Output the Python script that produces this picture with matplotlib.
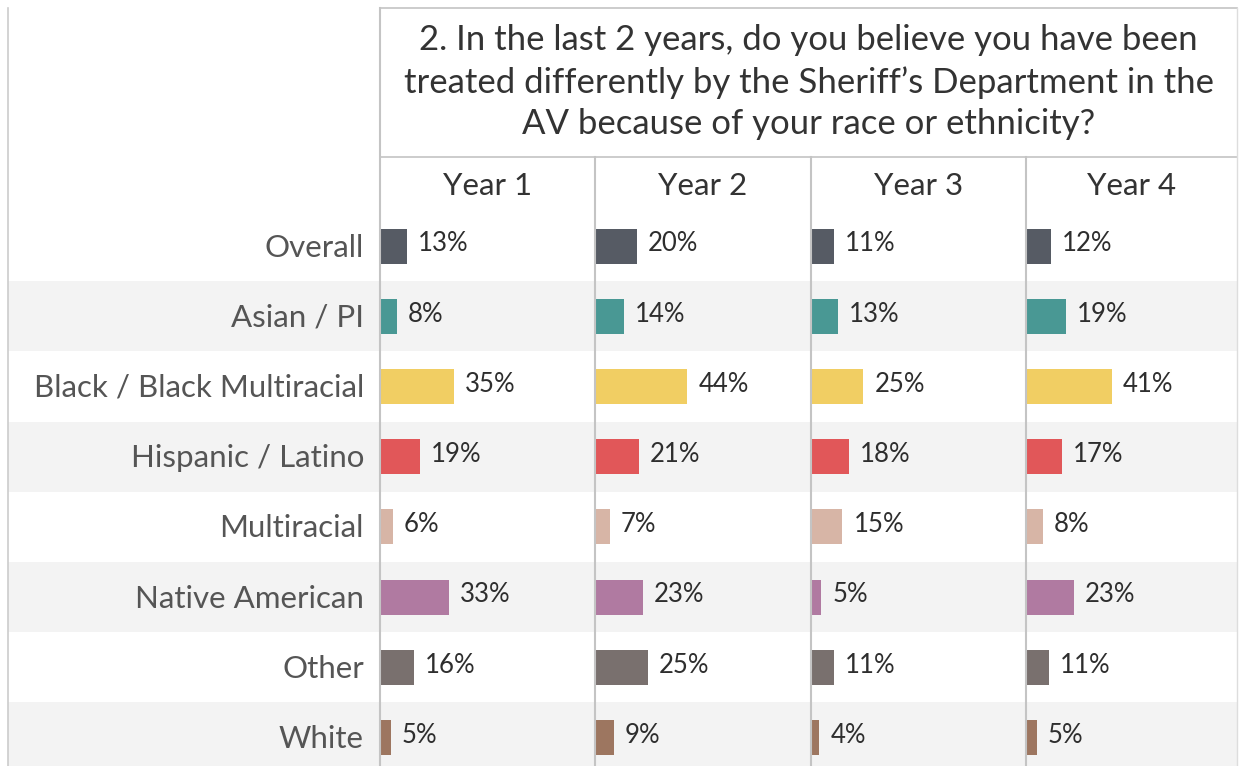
import matplotlib.pyplot as plt

plt.rcParams['font.family'] = ['Lato', 'DejaVu Sans']

groups = ["Overall", "Asian / PI", "Black / Black Multiracial", "Hispanic / Latino",
          "Multiracial", "Native American", "Other", "White"]
years = ["Year 1", "Year 2", "Year 3", "Year 4"]
year1 = [13, 8, 35, 19, 6, 33, 16, 5]
year2 = [20, 14, 44, 21, 7, 23, 25, 9]
year3 = [11, 13, 25, 18, 15, 5, 11, 4]
year4 = [12, 19, 41, 17, 8, 23, 11, 5]
colors = ["#565b64", "#499894", "#f1ce63", "#e15759",
          "#d7b5a6", "#b07aa1", "#79706e", "#9d7660"]
question = ("2. In the last 2 years, do you believe you have been\n"
            "treated differently by the Sheriff\u2019s Department in the\n"
            "AV because of your race or ethnicity?")

W, H = 1239, 766
row_top, row_h = 211, 70.2
col_edges = [380, 595, 811, 1026, 1237]
px_per_pct = 2.1
line_col = "#c4c4c4"


def box(x0, y0, x1, y1):
    # pixel box (top-left origin) -> figure fraction rect
    return [x0 / W, 1 - y1 / H, (x1 - x0) / W, (y1 - y0) / H]


fig = plt.figure(figsize=(W / 100, H / 100), dpi=100)
y_bottom = (H - row_top) / row_h - 0.5

# banded rows + group names
bg = fig.add_axes(box(8, row_top, 1237, H))
bg.set_xlim(8, 1237)
bg.set_ylim(y_bottom, -0.5)
for i in range(1, len(groups), 2):
    bg.axhspan(i - 0.5, i + 0.5, color="#f3f3f3", lw=0)
for i, g in enumerate(groups):
    bg.text(364, i + 0.02, g, ha='right', va='center', fontsize=22.5, color="#555555")
bg.axis('off')

# one bar panel per year
for j, vals in enumerate([year1, year2, year3, year4]):
    ax = fig.add_axes(box(col_edges[j], row_top, col_edges[j + 1], H))
    ax.barh(range(len(groups)), vals, height=0.5, color=colors)
    ax.set_xlim(0, (col_edges[j + 1] - col_edges[j]) / px_per_pct)
    ax.set_ylim(y_bottom, -0.5)
    for i, v in enumerate(vals):
        ax.text(v + 5.2, i - 0.03, f"{v}%", va='center', fontsize=18.5, color="#2e2e2e")
    ax.axis('off')

# header, year titles and grid lines
ov = fig.add_axes([0, 0, 1, 1])
ov.set_xlim(0, W)
ov.set_ylim(H, 0)
ov.axis('off')
ov.text((col_edges[0] + col_edges[-1]) / 2, 82, question, ha='center', va='center',
        fontsize=25, color="#333333", linespacing=1.38)
for j, y in enumerate(years):
    ov.text((col_edges[j] + col_edges[j + 1]) / 2, 186, y, ha='center', va='center',
            fontsize=22.5, color="#333333")
ov.plot([col_edges[0], col_edges[-1]], [8, 8], color=line_col, lw=1.2)
ov.plot([col_edges[0], col_edges[-1]], [157, 157], color=line_col, lw=1.2)
ov.plot([col_edges[0], col_edges[0]], [8, H], color=line_col, lw=1.5)
ov.plot([col_edges[-1], col_edges[-1]], [8, H], color="#dddddd", lw=1.0)
for x in col_edges[1:-1]:
    ov.plot([x, x], [157, H], color=line_col, lw=1.5)
ov.plot([8, 8], [8, H], color="#cccccc", lw=1.2)

fig.savefig("out.png", dpi=100)
